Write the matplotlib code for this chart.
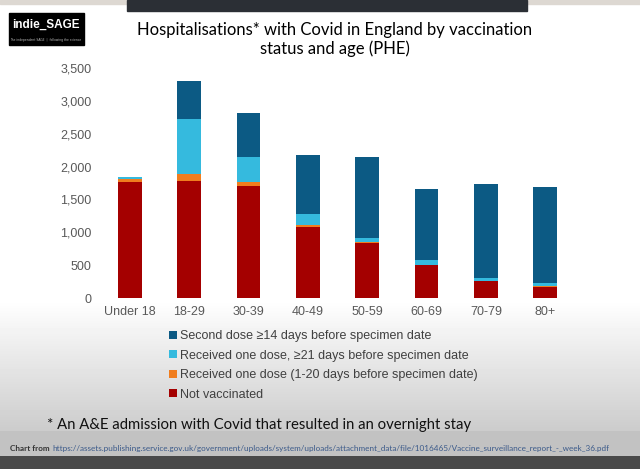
import numpy as np
import matplotlib
matplotlib.use("Agg")
import matplotlib.pyplot as plt
from matplotlib.patches import Rectangle

ages = ["Under 18", "18-29", "30-39", "40-49", "50-59", "60-69", "70-79", "80+"]
not_vacc = [1765, 1780, 1704, 1082, 830, 500, 258, 172]
one_dose_early = [50, 112, 56, 36, 20, 8, 5, 4]
one_dose_21 = [25, 829, 380, 157, 65, 70, 40, 52]
second_dose = [5, 577, 682, 895, 1225, 1077, 1432, 1456]

series = [
    ("Second dose \u226514 days before specimen date", second_dose, "#0c5a84"),
    ("Received one dose, \u226521 days before specimen date", one_dose_21, "#35bade"),
    ("Received one dose (1-20 days before specimen date)", one_dose_early, "#f07d1e"),
    ("Not vaccinated", not_vacc, "#a40000"),
]

W, H = 640, 469
fig = plt.figure(figsize=(W / 100, H / 100), dpi=100)

# slide background (vignette towards the bottom)
bg = fig.add_axes([0, 0, 1, 1], zorder=-10)
bg.set_xlim(0, W)
bg.set_ylim(H, 0)
bg.axis("off")
rows = np.arange(H)
shade = np.ones(H)
shade = np.where(rows > 300, 1 - (rows - 300) / 130 * 0.2, shade)
shade = np.where(rows > 430, 0.76, shade)
shade = np.where(rows > 455, 0.29, shade)
grad = np.repeat(shade[:, None], 2, axis=1)
bg.imshow(grad, cmap="gray", vmin=0, vmax=1, extent=[0, W, H, 0], aspect="auto")
bg.add_patch(Rectangle((0, 0), W, 4, color="#ddd8d2"))
bg.add_patch(Rectangle((127, 0), 400, 11, color="#2b2f35"))
bg.add_patch(Rectangle((9, 13), 75, 32, color="black"))
bg.text(46, 25, "indie_SAGE", color="white", fontsize=8.5, ha="center", va="center",
        family="Liberation Sans", fontweight="bold")
bg.text(46, 40, "The independent SAGE  |  following the science", color="#bbbbbb",
        fontsize=2.2, ha="center", va="center")

fig.text(335 / W, 1 - 39.5 / H, "Hospitalisations* with Covid in England by vaccination\nstatus and age (PHE)",
         ha="center", va="center", fontsize=12, family="Lato", color="#000000", linespacing=1.22)

ax = fig.add_axes([100 / W, 1 - 298 / H, 475 / W, 230 / H])
ax.set_facecolor("none")
x = np.arange(len(ages))
bottom = np.zeros(len(ages))
for label, vals, col in reversed(series):
    ax.bar(x, vals, 0.4, bottom=bottom, color=col, label=label)
    bottom += np.array(vals)

ax.set_xlim(-0.5, 7.5)
ax.set_ylim(0, 3500)
ax.set_yticks(range(0, 3501, 500))
ax.set_yticklabels([f"{v:,}" for v in range(0, 3501, 500)])
ax.set_xticks(x)
ax.set_xticklabels(ages)
ax.tick_params(length=0, colors="#595959", labelsize=9, pad=6)
for lab in ax.get_xticklabels() + ax.get_yticklabels():
    lab.set_family("Liberation Sans")
for s in ax.spines.values():
    s.set_visible(False)

handles, labels = ax.get_legend_handles_labels()
leg = fig.legend(handles[::-1], labels[::-1], loc="upper left",
                 bbox_to_anchor=(158 / W, 1 - 319 / H), frameon=False,
                 handlelength=0.6, handleheight=0.6, handletextpad=0.3,
                 labelspacing=0.6, prop={"family": "Liberation Sans", "size": 9})
for t in leg.get_texts():
    t.set_color("#404040")

fig.text(47 / W, 1 - 425 / H, "* An A&E admission with Covid that resulted in an overnight stay",
         ha="left", va="center", fontsize=10.7, family="Lato", color="#111111")
fig.text(10 / W, 1 - 448 / H, "Chart from", ha="left", va="center", fontsize=5.9,
         family="Lato", color="#333333", fontweight="bold")
fig.text(52 / W, 1 - 448 / H,
         "https://assets.publishing.service.gov.uk/government/uploads/system/uploads/attachment_data/file/1016465/Vaccine_surveillance_report_-_week_36.pdf",
         ha="left", va="center", fontsize=5.9, family="Lato", color="#3b5a8a")

fig.savefig("out.png", dpi=100)
